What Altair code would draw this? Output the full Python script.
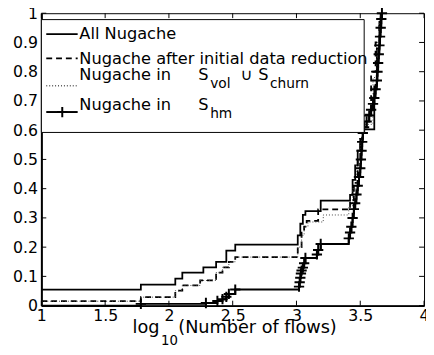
import altair as alt
import pandas as pd

# ---- data ----
all_x = [1.0, 1.78, 2.05, 2.105, 2.27, 2.37, 2.45, 2.52, 3.01, 3.03, 3.05, 3.07, 3.19, 3.42, 3.44, 3.46, 3.48, 3.50, 3.52, 3.61, 3.63, 3.65, 3.66]
all_y = [0.055, 0.072, 0.092, 0.113, 0.131, 0.15, 0.188, 0.209, 0.24, 0.28, 0.31, 0.323, 0.359, 0.379, 0.43, 0.48, 0.53, 0.57, 0.603, 0.75, 0.88, 0.97, 1.0]

red_x = [1.0, 1.78, 2.05, 2.105, 2.245, 2.37, 2.42, 2.47, 2.52, 3.01, 3.04, 3.06, 3.08, 3.17, 3.42, 3.45, 3.48, 3.50, 3.52, 3.585, 3.62, 3.65, 3.66]
red_y = [0.015, 0.029, 0.051, 0.069, 0.086, 0.113, 0.131, 0.15, 0.166, 0.2, 0.25, 0.27, 0.29, 0.329, 0.36, 0.42, 0.5, 0.57, 0.653, 0.8, 0.9, 0.97, 1.0]

vc_x = [1.0, 1.78, 2.05, 2.105, 2.245, 2.37, 2.42, 2.47, 2.52, 3.01, 3.04, 3.06, 3.09, 3.21, 3.41, 3.44, 3.47, 3.50, 3.52, 3.60, 3.63, 3.65, 3.66]
vc_y = [0.015, 0.029, 0.051, 0.069, 0.086, 0.113, 0.131, 0.15, 0.166, 0.2, 0.24, 0.27, 0.286, 0.31, 0.34, 0.40, 0.48, 0.56, 0.62, 0.78, 0.9, 0.97, 1.0]

hm_x = [1.0, 1.78, 2.29, 2.38, 2.42, 2.45, 2.47, 2.52,
        3.02, 3.025, 3.03, 3.035, 3.04, 3.05, 3.06, 3.07, 3.16, 3.17, 3.19,
        3.41, 3.42, 3.43, 3.44, 3.45, 3.46, 3.47, 3.48, 3.49, 3.50, 3.505, 3.51, 3.515, 3.52,
        3.53, 3.55, 3.57, 3.585, 3.60, 3.61, 3.62, 3.63, 3.635, 3.64, 3.645, 3.65, 3.655, 3.66, 3.665, 3.67]
hm_y = [0.0, 0.006, 0.009, 0.016, 0.022, 0.03, 0.04, 0.055,
        0.065, 0.08, 0.095, 0.11, 0.12, 0.13, 0.145, 0.163, 0.175, 0.19, 0.211,
        0.23, 0.25, 0.27, 0.30, 0.33, 0.35, 0.38, 0.41, 0.44, 0.47, 0.50, 0.53, 0.56, 0.59,
        0.61, 0.63, 0.65, 0.67, 0.69, 0.71, 0.74, 0.77, 0.80, 0.83, 0.86, 0.89, 0.92, 0.95, 0.98, 1.0]

x_ticks = [1, 1.5, 2, 2.5, 3, 3.5, 4]
y_ticks = [0, 0.1, 0.2, 0.3, 0.4, 0.5, 0.6, 0.7, 0.8, 0.9, 1.0]

FONT = "DejaVu Sans"
W, H = 390, 298
xs = alt.Scale(domain=[1, 4], nice=False, zero=False)
ys = alt.Scale(domain=[0, 1], nice=False, zero=False)
PLUS = "M-1,0L1,0M0,-1L0,1"

def df(x, y):
    return pd.DataFrame({"x": x, "y": y})

AX = dict(format="~g", title=None, labelOverlap=False, labelFlush=False, labelBound=False)

def xq(f="x"):
    return alt.X(f + ":Q", scale=xs, axis=alt.Axis(values=x_ticks, **AX))

def yq(f="y"):
    return alt.Y(f + ":Q", scale=ys, axis=alt.Axis(values=y_ticks, **AX))

base_axes = alt.Chart(df(all_x, all_y)).mark_line(
    interpolate="step-after", color="black", strokeWidth=1.8
).encode(x=xq(), y=yq())

red = alt.Chart(df(red_x, red_y)).mark_line(
    interpolate="step-after", color="black", strokeWidth=1.8, strokeDash=[6, 4]
).encode(x=xq(), y=yq())

vc = alt.Chart(df(vc_x, vc_y)).mark_line(
    interpolate="step-after", color="#444", strokeWidth=1, strokeDash=[1, 2]
).encode(x=xq(), y=yq())

hm_line = alt.Chart(df(hm_x, hm_y)).mark_line(
    interpolate="step-after", color="black", strokeWidth=2
).encode(x=xq(), y=yq())

hm_pts = alt.Chart(df(hm_x, hm_y)).transform_filter("datum.x > 1").mark_point(
    shape=PLUS, size=110, filled=False, stroke="black", strokeWidth=2, opacity=1
).encode(x=xq(), y=yq())

# inward ticks on all four sides (tick positions from the tick arrays)
xt = pd.DataFrame({"x": x_ticks})
yt = pd.DataFrame({"y": y_ticks})
tick_b = alt.Chart(xt).mark_rule(color="black", strokeWidth=1).encode(
    x=xq(), y=alt.value(H), y2=alt.value(H - 5))
tick_t = alt.Chart(xt).mark_rule(color="black", strokeWidth=1).encode(
    x=xq(), y=alt.value(0), y2=alt.value(5))
tick_l = alt.Chart(yt).mark_rule(color="black", strokeWidth=1).encode(
    y=yq(), x=alt.value(0), x2=alt.value(5))
tick_r = alt.Chart(yt).mark_rule(color="black", strokeWidth=1).encode(
    y=yq(), x=alt.value(W), x2=alt.value(W - 5))

dummy = pd.DataFrame({"a": [0]})

def txt(s, px, py, size=16.5):
    return alt.Chart(dummy).mark_text(
        text=s, font=FONT, fontSize=size, align="left", baseline="middle", color="black"
    ).encode(x=alt.value(px), y=alt.value(py))

def rule(x1, x2, y, **kw):
    return alt.Chart(dummy).mark_rule(color="black", **kw).encode(
        x=alt.value(x1), x2=alt.value(x2), y=alt.value(y))

legend_box = alt.Chart(dummy).mark_rect(
    fill="white", stroke="black", strokeWidth=1
).encode(x=alt.value(0), x2=alt.value(329), y=alt.value(6.5), y2=alt.value(121.5))

legend = [
    legend_box,
    rule(5, 37, 21.3, strokeWidth=1.8),
    txt("All Nugache", 38.7, 21),
    rule(5, 37, 46, strokeWidth=1.8, strokeDash=[6, 4]),
    txt("Nugache after initial data reduction", 38.7, 46.5),
    rule(5, 37, 74, strokeWidth=1, strokeDash=[1, 2]),
    txt("Nugache in", 38.7, 62.7),
    txt("S", 160, 62.7),
    txt("vol", 172, 72, 14),
    txt("\u222a", 203, 62.7),
    txt("S", 221, 62.7),
    txt("churn", 233, 72, 14),
    rule(5, 37, 100.7, strokeWidth=2),
    alt.Chart(dummy).mark_point(shape=PLUS, size=110, filled=False, stroke="black",
                                strokeWidth=2, opacity=1).encode(x=alt.value(21.3), y=alt.value(100.7)),
    txt("Nugache in", 38.7, 93.3),
    txt("S", 160, 93.3),
    txt("hm", 172, 103, 14),
]

xtitle = [
    txt("log", 93, 321, 18),
    txt("10", 122, 334, 13.5),
    txt("(Number of flows)", 139.5, 321, 18),
]

chart = alt.layer(
    base_axes, red, vc, hm_line, hm_pts,
    tick_b, tick_t, tick_l, tick_r,
    *legend, *xtitle
).properties(
    width=W, height=H,
    autosize=alt.AutoSizeParams(type="none"),
    padding={"left": 34, "top": 2, "right": 2, "bottom": 47},
).configure_view(
    stroke="black", strokeWidth=1
).configure_axis(
    labelFont=FONT, labelFontSize=16, labelColor="black",
    ticks=False, grid=False, domain=True, domainColor="black", domainWidth=2,
    labelPadding=4, zindex=1,
).configure_axisX(labelPadding=2)

chart.save("out.html", embed_options={"renderer": "svg", "actions": False})
